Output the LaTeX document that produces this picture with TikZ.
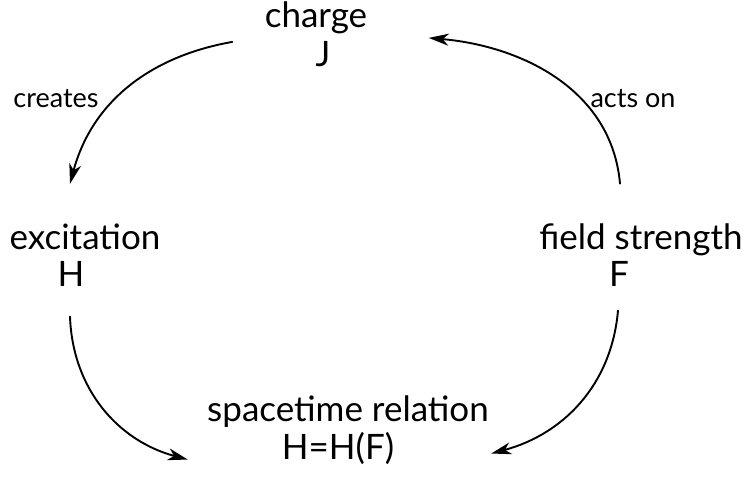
\documentclass[tikz,border=0pt]{standalone}
\usepackage{fontspec}
\setmainfont{Lato}
\usetikzlibrary{arrows.meta}
\begin{document}
\begin{tikzpicture}[x=1pt,y=1pt, line join=round, line cap=round,
        term/.style={anchor=base, font=\fontsize{35}{40}\selectfont},
        lbl/.style={anchor=base, font=\fontsize{27}{32}\selectfont},
        flow/.style={line width=1.9pt, -{Stealth[length=20pt,width=12pt,inset=6pt]}}]
        \useasboundingbox (0,0) rectangle (748,497);
        % the four quantities
        \node[term] (charge) at (316,469) {charge};
        \node[term] (J) at (323,430) {J};
        \node[term] (excit) at (85,247) {excitation};
        \node[term] (H) at (71,210) {H};
        \node[term] (field) at (641,247) {field strength};
        \node[term] (F) at (619,210) {F};
        \node[term] (rel) at (348,75) {spacetime relation};
        \node[term] (HF) at (338,37) {H=H(F)};
        % arrow labels
        \node[lbl] (creates) at (56,389) {creates};
        \node[lbl] (actson) at (633,389) {acts on};
        % the cycle
        \draw[flow] ([shift={(-29,-4)}]charge.south west) to[out=190,in=75] ([shift={(-15,37)}]excit.north);
        \draw[flow] ([shift={(-21,37)}]field.north) to[out=95,in=-5] ([shift={(58,0)}]charge.south east);
        \draw[flow] ([shift={(-1,-26)}]H.south) to[out=-88,in=165] ([shift={(-16,-28)}]rel.south west);
        \draw[flow] ([shift={(-1,-20)}]F.south) to[out=-95,in=15] ([shift={(-1,-22)}]rel.south east);
\end{tikzpicture}
\end{document}
